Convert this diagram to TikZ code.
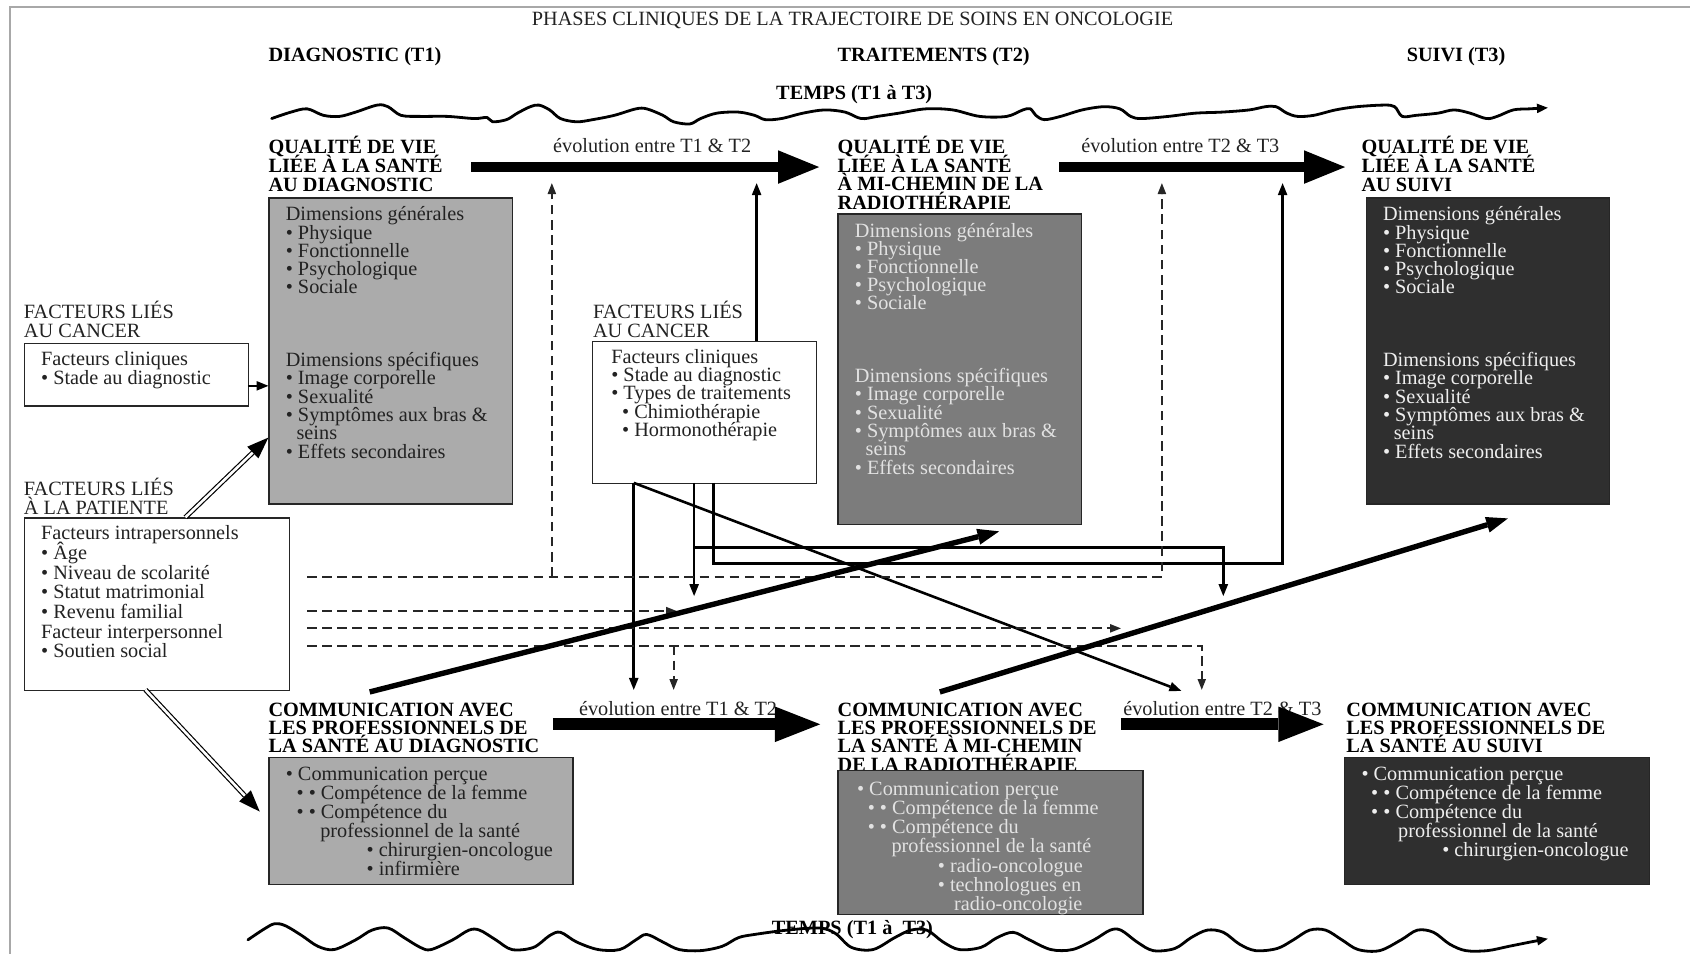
\documentclass[tikz,border=0pt]{standalone}
\usepackage{fontspec}
\setmainfont{Liberation Serif}
\usetikzlibrary{arrows.meta}
\definecolor{gA}{HTML}{ABABAB}
\definecolor{gB}{HTML}{7C7C7C}
\definecolor{gC}{HTML}{2F2F2F}
\definecolor{tA}{HTML}{222222}
\definecolor{tB}{HTML}{E2E2E2}
\definecolor{tC}{HTML}{EEEEEE}
\definecolor{frm}{HTML}{A8A8A8}
\newcommand\ffs[1]{\fontsize{18.8pt}{#1pt}\selectfont\lineskiplimit=-50pt\relax}
\newcommand\fl{\rule{0pt}{19.8pt}}
\begin{document}
\begin{tikzpicture}[x=1pt,y=-1pt,
  tb/.style={anchor=north west, inner sep=0pt, align=left, font=\ffs{17.2}, text=tA},
  hd/.style={anchor=north west, inner sep=0pt, align=left, text=black},
  sl/.style={inner sep=0pt, anchor=base west, font=\ffs{17}, text=tA},
  slb/.style={inner sep=0pt, anchor=base west, font={\ffs{17}\bfseries}, text=black},
  boxn/.style={anchor=north west, draw=black!85, line width=1.2pt, inner sep=0pt},
  thinarr/.style={line width=2.4pt, -{Triangle[length=11pt,width=9pt,line width=0pt]}},
  dashy/.style={line width=1.8pt, dash pattern=on 9pt off 5pt, draw=black!85, -{Triangle[length=10pt,width=8pt,line width=0pt]}},
  thickarr/.style={line width=5pt, -{Triangle[length=20pt,width=15pt,line width=0pt]}},
  bigA/.style={line width=10pt, -{Triangle[length=38pt,width=31pt,line width=0pt]}},
  bigB/.style={line width=11pt, -{Triangle[length=42pt,width=33pt,line width=0pt]}},
  dbl/.style={double, line width=1.1pt, double distance=2.4pt, -{Triangle[length=20pt,width=15pt,line width=0pt]}},
  wave/.style={line width=2.6pt, line cap=round, line join=round, -{Triangle[length=10pt,width=9pt,line width=0pt]}}
]
\useasboundingbox (0,0) rectangle (1568,885);
% frame
\draw[frm, line width=1.5pt] (9.5,885) -- (9.5,6.5) -- (1568,6.5);

% titles
\node[sl, anchor=base] (title) at (791,24) {PHASES CLINIQUES DE LA TRAJECTOIRE DE SOINS EN ONCOLOGIE};
\node[slb] (ph1) at (249,57.5) {DIAGNOSTIC (T1)};
\node[slb] (ph2) at (777,57.5) {TRAITEMENTS (T2)};
\node[slb] (ph3) at (1305,57.5) {SUIVI (T3)};
\node[slb] (temps1) at (720,92.5) {TEMPS (T1 à T3)};
\node[slb] (temps2) at (716,867) {TEMPS (T1 à\ \ T3)};

% waves
\draw[wave] plot[smooth, tension=0.55] coordinates {(252,110) (270,104) (285,101) (300,107) (315,108) (330,104) (350,97.5) (360,99) (372,107) (390,108) (415,108) (440,110) (452,109) (457,113) (470,111) (480,105) (492,99) (500,97.5) (510,102) (520,110) (535,113) (550,111) (570,107) (590,101) (600,101) (615,107) (625,113) (640,115) (650,110) (665,105) (685,104) (700,107) (710,111) (725,110) (745,105) (765,102) (784,104) (799,110) (814,108) (834,105) (859,101) (884,102) (909,108) (934,108) (949,102) (956,101) (961,107) (969,111) (984,108) (1004,102) (1024,99) (1039,101) (1049,108) (1059,110) (1084,108) (1109,105) (1134,104) (1159,102) (1174,99) (1184,99) (1194,105) (1204,108) (1219,107) (1239,102) (1259,99) (1284,97.5) (1294,99) (1301,108) (1314,107) (1334,105) (1349,102) (1364,105) (1379,110) (1389,108) (1404,102) (1419,101) (1436,100)};
\draw[wave] plot[smooth, tension=0.55] coordinates {(230,872) (245,862) (255,857) (265,859) (280,868) (295,878) (310,881) (330,872) (345,863) (360,861) (375,870) (390,879) (400,881) (420,872) (435,863) (445,863) (460,872) (475,881) (495,879) (510,868) (520,865) (535,874) (555,881) (575,881) (590,872) (600,867) (615,874) (630,881) (650,882) (670,878) (685,870) (700,867) (730,863) (760,861) (775,866) (790,879) (810,881) (830,870) (845,863) (860,863) (875,874) (890,881) (910,879) (925,870) (940,865) (955,872) (975,881) (995,881) (1015,872) (1030,863) (1040,863) (1055,874) (1070,882) (1090,880) (1105,870) (1120,863) (1135,865) (1150,876) (1165,882) (1185,880) (1200,872) (1215,863) (1230,863) (1245,872) (1260,881) (1280,882) (1300,872) (1315,863) (1330,865) (1345,876) (1360,882) (1380,882) (1400,878) (1420,874) (1436,871)};

% headings
\node[hd, font={\ffs{17.5}\bfseries}] (qh1) at (249,140.5-18) {\fl QUALITÉ DE VIE\\LIÉE À LA SANTÉ\\AU DIAGNOSTIC};
\node[hd, font={\ffs{17.3}\bfseries}] (qh2) at (777,140.5-18) {\fl QUALITÉ DE VIE\\LIÉE À LA SANTÉ\\À MI-CHEMIN DE LA\\RADIOTHÉRAPIE};
\node[hd, font={\ffs{17.5}\bfseries}] (qh3) at (1263,140.5-18) {\fl QUALITÉ DE VIE\\LIÉE À LA SANTÉ\\AU SUIVI};
\node[hd, font={\ffs{17}\bfseries}] (ch1) at (249,662.5-18) {\fl COMMUNICATION AVEC\\LES PROFESSIONNELS DE\\LA SANTÉ AU DIAGNOSTIC};
\node[hd, font={\ffs{17}\bfseries}] (ch2) at (777,662.5-18) {\fl COMMUNICATION AVEC\\LES PROFESSIONNELS DE\\LA SANTÉ À MI-CHEMIN\\DE LA RADIOTHÉRAPIE};
\node[hd, font={\ffs{17}\bfseries}] (ch3) at (1249,662.5-18) {\fl COMMUNICATION AVEC\\LES PROFESSIONNELS DE\\LA SANTÉ AU SUIVI};

% evolution labels
\node[sl] (ev1) at (513,141.5) {évolution entre T1 \& T2};
\node[sl] (ev2) at (1003,141.5) {évolution entre T2 \& T3};
\node[sl] (ev3) at (537,663.5) {évolution entre T1 \& T2};
\node[sl] (ev4) at (1042,663.5) {évolution entre T2 \& T3};

% factor labels
\node[tb, font=\ffs{18}] (fc1) at (22,293.5-18) {\fl FACTEURS LIÉS\\AU CANCER};
\node[tb, font=\ffs{18}] (fc2) at (550,293.5-18) {\fl FACTEURS LIÉS\\AU CANCER};
\node[tb, font=\ffs{17.5}] (fp) at (22,457.5-18) {\fl FACTEURS LIÉS\\À LA PATIENTE};

% boxes
\node[boxn, fill=gA, minimum width=226pt, minimum height=284pt] (q1) at (249,183) {};
\node[boxn, fill=gB, minimum width=226pt, minimum height=288pt] (q2) at (777,198) {};
\node[boxn, fill=gC, minimum width=226pt, minimum height=284pt] (q3) at (1267,183) {};
\node[boxn, fill=gA, minimum width=282pt, minimum height=118pt] (c1) at (249,702) {};
\node[boxn, fill=gB, minimum width=283pt, minimum height=134pt] (c2) at (777,714) {};
\node[boxn, fill=gC, minimum width=283pt, minimum height=118pt] (c3) at (1247,702) {};
\node[boxn, fill=white, minimum width=208pt, minimum height=58pt] (lb) at (22,318) {};
\node[boxn, fill=white, minimum width=246pt, minimum height=160pt] (pb) at (22,480) {};
\node[boxn, fill=white, minimum width=208pt, minimum height=132pt] (mb) at (549,316) {};

% box texts
\node[tb, font=\ffs{16.8}] (q1g) at (265,203-18) {\fl Dimensions générales\\• Physique\\• Fonctionnelle\\• Psychologique\\• Sociale};
\node[tb, font=\ffs{17}] (q1s) at (265,338-18) {\fl Dimensions spécifiques\\• Image corporelle\\• Sexualité\\• Symptômes aux bras \&\\\hspace*{10pt}seins\\• Effets secondaires};
\node[tb, font=\ffs{16.9}, text=tB] (q2g) at (793,218-18) {\fl Dimensions générales\\• Physique\\• Fonctionnelle\\• Psychologique\\• Sociale};
\node[tb, font=\ffs{17}, text=tB] (q2s) at (793,353-18) {\fl Dimensions spécifiques\\• Image corporelle\\• Sexualité\\• Symptômes aux bras \&\\\hspace*{10pt}seins\\• Effets secondaires};
\node[tb, font=\ffs{16.8}, text=tC] (q3g) at (1283,203-18) {\fl Dimensions générales\\• Physique\\• Fonctionnelle\\• Psychologique\\• Sociale};
\node[tb, font=\ffs{17}, text=tC] (q3s) at (1283,338-18) {\fl Dimensions spécifiques\\• Image corporelle\\• Sexualité\\• Symptômes aux bras \&\\\hspace*{10pt}seins\\• Effets secondaires};

\node[tb, font=\ffs{18}] (lbt) at (38,337-18) {\fl Facteurs cliniques\\• Stade au diagnostic};
\node[tb, font=\ffs{18.2}] (pbt) at (38,499-18) {\fl Facteurs intrapersonnels\\• Âge\\• Niveau de scolarité\\• Statut matrimonial\\• Revenu familial\\Facteur interpersonnel\\• Soutien social};
\node[tb, font=\ffs{17}] (mbt) at (567,335-18) {\fl Facteurs cliniques\\• Stade au diagnostic\\• Types de traitements\\\hspace*{10pt}• Chimiothérapie\\\hspace*{10pt}• Hormonothérapie};

\node[tb, font=\ffs{17.6}] (c1t) at (265,722-18) {\fl • Communication perçue\\\hspace*{10pt}• • Compétence de la femme\\\hspace*{10pt}• • Compétence du\\\hspace*{32pt}professionnel de la santé\\\hspace*{75pt}• chirurgien-oncologue\\\hspace*{75pt}• infirmière};
\begin{scope}
\clip (c2.south west) rectangle (c2.north east);
\node[tb, font=\ffs{17.8}, text=tB] (c2t) at (795,736-18) {\fl • Communication perçue\\\hspace*{10pt}• • Compétence de la femme\\\hspace*{10pt}• • Compétence du\\\hspace*{32pt}professionnel de la santé\\\hspace*{75pt}• radio-oncologue\\\hspace*{75pt}• technologues en\\\hspace*{90pt}radio-oncologie};
\end{scope}
\node[tb, font=\ffs{17.6}, text=tC] (c3t) at (1263,722-18) {\fl • Communication perçue\\\hspace*{9pt}• • Compétence de la femme\\\hspace*{9pt}• • Compétence du\\\hspace*{34pt}professionnel de la santé\\\hspace*{75pt}• chirurgien-oncologue};

% coordinates
\coordinate (a1s) at (437,155); \coordinate (a1e) at (760,155);
\coordinate (a2s) at (983,155); \coordinate (a2e) at (1248,155);
\coordinate (a3s) at (513,672); \coordinate (a3e) at (761,672);
\coordinate (a4s) at (1040,672); \coordinate (a4e) at (1228,672);
\coordinate (lA) at (230,358);
\coordinate (mt) at (702,316); \coordinate (mte) at (702,170);
\coordinate (mbA) at (588,448); \coordinate (mbAe) at (588,640);
\coordinate (dgE) at (1096,641);
\coordinate (mbB) at (644,448); \coordinate (mbBe) at (644,553);
\coordinate (mbBk) at (644,508); \coordinate (mbCe) at (1135,553);
\coordinate (mbC) at (662,448); \coordinate (t2up) at (1190,170);
\coordinate (d1s) at (285,535); \coordinate (up2) at (1078,170);
\coordinate (d1k) at (512,535); \coordinate (up1) at (512,170);
\coordinate (d2s) at (285,567); \coordinate (d2e) at (628,567);
\coordinate (d3s) at (285,583); \coordinate (d3e) at (1040,583);
\coordinate (d4s) at (285,599); \coordinate (d4e) at (1115,640);
\coordinate (d4k) at (625,599); \coordinate (d4f) at (625,640);
\coordinate (dA) at (343,642); \coordinate (dAe) at (927,493);
\coordinate (dB) at (872,642); \coordinate (dBe) at (1399,481);
\coordinate (pbT) at (172,480); \coordinate (q1L) at (249,406);
\coordinate (pbB) at (135,640); \coordinate (c1L) at (241,753);

% big arrows
\draw[bigA] (a1s) -- (a1e);
\draw[bigA] (a2s) -- (a2e);
\draw[bigB] (a3s) -- (a3e);
\draw[bigB] (a4s) -- (a4e);

% thin solid arrows
\draw[thinarr] (lA) -- (lA -| q1.west);
\draw[thinarr] (mt) -- (mte);
\draw[thinarr] (mbA) -- (mbAe);
\draw[thinarr] (mbA) -- (dgE);
\draw[thinarr] (mbB) -- (mbBe);
\draw[thinarr] (mbBk) -| (mbCe);
\draw[thinarr] (mbC) -- ++(0,75) -| (t2up);

% dashed arrows
\draw[dashy] (d1s) -| (up2);
\draw[dashy] (d1k) -- (up1);
\draw[dashy] (d2s) -- (d2e);
\draw[dashy] (d3s) -- (d3e);
\draw[dashy] (d4s) -| (d4e);
\draw[dashy] (d4k) -- (d4f);

% thick diagonals
\draw[thickarr] (dA) -- (dAe);
\draw[thickarr] (dB) -- (dBe);

% double arrows
\draw[dbl] (pbT) -- (q1L);
\draw[dbl] (pbB) -- (c1L);
\end{tikzpicture}
\end{document}
